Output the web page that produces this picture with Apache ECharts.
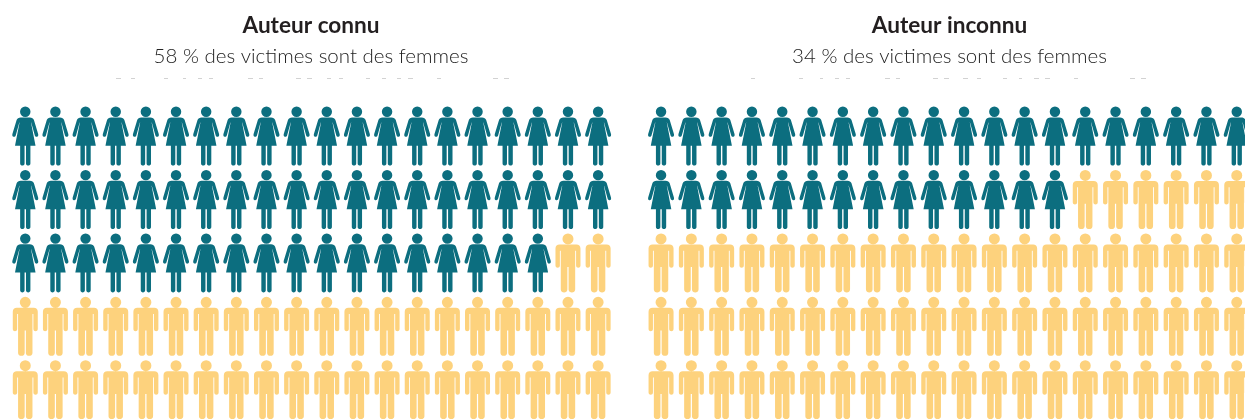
<!DOCTYPE html>
<html lang="fr">
<head>
<meta charset="utf-8">
<title>Victimes selon le lien avec l'auteur</title>
<style>
  html, body { margin: 0; padding: 0; background: #fff; overflow: hidden; }
  #chart { width: 1245px; height: 419px; }
</style>
<script src="https://cdn.jsdelivr.net/npm/echarts@6/dist/echarts.min.js"></script>
</head>
<body>
<div id="chart"></div>
<script>
// Chart content
const panelTitles = ['Auteur connu', 'Auteur inconnu'];
const panelSubtitles = ['58 % des victimes sont des femmes', '34 % des victimes sont des femmes'];
const womenCounts = [58, 34];
const totalFigures = [100, 100];
const figuresPerRow = 20;
const rowCount = 5;

// Pictograms, one person per victim
const womanPath = 'path://M7.8 5.1a5.2 5.2 0 1 0 10.4 0a5.2 5.2 0 1 0 -10.4 0z' +
  'M8.5 10.8H17.5C19.6 10.8 21 11.7 21.6 13.3L25.8 27.4C26.2 29 25.6 30 24.6 30.2C23.6 30.4 22.8 29.9 22.5 28.8L18.9 15.8' +
  'L18.7 15.8L23.2 39.2H18.1V57C18.1 59.8 13.7 59.8 13.7 57V39.2H12.3V57C12.3 59.8 7.9 59.8 7.9 57V39.2H2.8L7.3 15.8L7.1 15.8' +
  'L3.5 28.8C3.2 29.9 2.4 30.4 1.4 30.2C0.4 30 -0.2 29 0.2 27.4L4.4 13.3C5 11.7 6.4 10.8 8.5 10.8z';
const manPath = 'path://M7 5.2a5.5 5.5 0 1 0 11 0a5.5 5.5 0 1 0 -11 0z' +
  'M4 10.8H21C23.4 10.8 25 12.4 25 14.8V32C25 35 20.6 35 20.6 32V17H19.7V56C19.7 59.8 13.1 59.8 13.1 56V33.5H11.9V56' +
  'C11.9 59.8 5.3 59.8 5.3 56V17H4.4V32C4.4 35 0 35 0 32V14.8C0 12.4 1.6 10.8 4 10.8z';

// Tops of the line of text cut off under each subtitle
const cutLineSpans = [
  [116, 121], [131, 135], [164, 168], [183, 186], [198, 202], [209, 213], [248, 253], [259, 263],
  [296, 301], [307, 312], [327, 331], [339, 343], [366, 370], [382, 386], [397, 401], [408, 413],
  [437, 441], [493, 498], [504, 509],
  [751, 755], [799, 803], [820, 823], [835, 839], [846, 850], [885, 890], [896, 900], [933, 938],
  [944, 949], [963, 968], [977, 981], [1003, 1007], [1019, 1022], [1034, 1039], [1045, 1050],
  [1074, 1078], [1130, 1135], [1141, 1146]
];

const TEAL = '#0c6e7f';
const YELLOW = '#fdd27d';
const FONT = 'Lato, "Open Sans", sans-serif';

// Slot index -> [column, row] in the panel's pictogram grid
function slots(from, to) {
  const out = [];
  for (let i = from; i < to; i++) {
    out.push([i % figuresPerRow, Math.floor(i / figuresPerRow)]);
  }
  return out;
}

const gridRects = [
  { left: 10.2, width: 603, top: 104.4, height: 317 },
  { left: 645.9, width: 606, top: 104.4, height: 317 }
];
const titleCenters = [311, 949.5];

const hiddenAxis = { show: false };
const option = {
  backgroundColor: '#ffffff',
  animation: false,
  title: panelTitles.map((text, i) => ({
    text,
    subtext: panelSubtitles[i],
    left: titleCenters[i],
    top: 14,
    padding: 0,
    textAlign: 'center',
    itemGap: 9,
    textStyle: { fontFamily: FONT, fontSize: 22.6, fontWeight: 700, color: '#231f20' },
    subtextStyle: { fontFamily: FONT, fontSize: 20.5, fontWeight: 300, color: '#222222' }
  })),
  // The last column and the last row run past the page edge, so no bounds clamp
  grid: gridRects.map(r => ({ ...r, containLabel: false, outerBoundsMode: 'none' })),
  xAxis: gridRects.map((_, i) => ({
    ...hiddenAxis, type: 'value', gridIndex: i, min: -0.5, max: figuresPerRow - 0.5
  })),
  yAxis: gridRects.map((_, i) => ({
    ...hiddenAxis, type: 'value', gridIndex: i, inverse: true, min: -0.5, max: rowCount - 0.5
  })),
  series: womenCounts.flatMap((women, i) => [
    {
      name: 'Femmes', type: 'scatter', xAxisIndex: i, yAxisIndex: i, clip: false, silent: true,
      symbol: womanPath, symbolSize: [26, 59],
      itemStyle: { color: TEAL, opacity: 1 },
      data: slots(0, women)
    },
    {
      name: 'Hommes', type: 'scatter', xAxisIndex: i, yAxisIndex: i, clip: false, silent: true,
      symbol: manPath, symbolSize: [25, 59],
      itemStyle: { color: YELLOW, opacity: 1 },
      data: slots(women, totalFigures[i])
    }
  ]),
  graphic: cutLineSpans.map(([x0, x1]) => ({
    type: 'rect', silent: true,
    shape: { x: x0, y: 78, width: x1 - x0, height: 1 },
    style: { fill: '#d2d2d2' }
  }))
};

echarts.init(document.getElementById('chart'), null, { renderer: 'canvas' }).setOption(option);
</script>
</body>
</html>
